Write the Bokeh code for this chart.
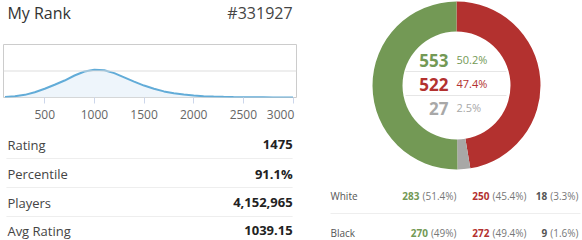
from bokeh.plotting import figure
from bokeh.models import Range1d, ColumnDataSource, Span, FixedTicker
from bokeh.layouts import row, column
from bokeh.embed import file_html
from bokeh.resources import INLINE
from bokeh.core.properties import value
import math

FONT = "Open Sans"

# ---------------- data ----------------
title = "My Rank"
rank_text = "#331927"
ratings = list(range(100, 3001, 100))
density = [0.02, 0.05, 0.10, 0.20, 0.33, 0.48, 0.64, 0.83, 0.98, 1.05,
           1.03, 0.92, 0.76, 0.60, 0.45, 0.33, 0.23, 0.16, 0.11, 0.075,
           0.05, 0.035, 0.025, 0.017, 0.012, 0.008, 0.006, 0.004, 0.003, 0.002]
x_ticks = [500, 1000, 1500, 2000, 2500, 3000]
stat_labels = ["Rating", "Percentile", "Players", "Avg Rating"]
stat_values = ["1475", "91.1%", "4,152,965", "1039.15"]
outcome_names = ["Lost", "Draw", "Won"]          # clockwise from top
outcome_counts = [522, 27, 553]
outcome_colors = ["#b3312f", "#a8a8a6", "#739955"]
center_counts = ["553", "522", "27"]
center_pcts = ["50.2%", "47.4%", "2.5%"]
center_colors = ["#739955", "#b3312f", "#a8a8a8"]
sides = ["White", "Black"]
side_counts = [["283", "250", "18"], ["270", "272", "9"]]
side_pcts = [["(51.4%)", "(45.4%)", "(3.3%)"], ["(49%)", "(49.4%)", "(1.6%)"]]
side_colors = ["#739955", "#b3312f", "#555555"]


def canvas(w, h):
    p = figure(width=w, height=h, x_range=Range1d(0, w), y_range=Range1d(0, h),
               x_axis_type=None, y_axis_type=None, toolbar_location=None,
               output_backend="svg", min_border=0)
    p.outline_line_color = None
    p.grid.visible = False
    return p


def txt(p, x, y, t, size, color, align="left", style="normal"):
    p.text(x=[x], y=[y], text=[t], text_font=value(FONT), text_font_size=size,
           text_color=color, text_align=align, text_baseline="middle",
           text_font_style=style)


# ---------------- header ----------------
H1 = 40
head = canvas(300, H1)
txt(head, 4, H1 - 12, title, "16px", "#333333")
txt(head, 296, H1 - 12, rank_text, "16px", "#444444", align="right")

# ---------------- area chart ----------------
area = figure(width=300, height=85, x_range=Range1d(85, 3035), y_range=Range1d(0, 2.0),
              y_axis_type=None, toolbar_location=None, output_backend="svg",
              min_border_left=3, min_border_right=4, min_border_top=4, min_border_bottom=28)
area.outline_line_color = "#cccccc"
area.grid.visible = False
src = ColumnDataSource(dict(x=ratings, y=density))
area.varea(x="x", y1=0, y2="y", source=src, fill_color="#eef5fb")
area.line(x="x", y="y", source=src, line_color="#62acd8", line_width=2)
area.add_layout(Span(location=1.0, dimension="width", line_color="#dddddd", line_width=1))
ax = area.xaxis[0]
ax.ticker = FixedTicker(ticks=x_ticks)
ax.axis_line_color = None
ax.major_tick_in = 0
ax.major_tick_out = 6
ax.major_tick_line_color = "#ccd6eb"
ax.minor_tick_line_color = None
ax.major_label_standoff = 2
ax.major_label_text_font = FONT
ax.major_label_text_font_size = "12px"
ax.major_label_text_color = "#666666"
ax.major_label_overrides = {3000: "3000" + "\u00a0" * 2}

# ---------------- stats table ----------------
H3 = 115
table = canvas(300, H3)
row_y = [19, 48, 77, 105]
for i, (lab, val) in enumerate(zip(stat_labels, stat_values)):
    txt(table, 4, H3 - row_y[i], lab, "13px", "#444444")
    txt(table, 296, H3 - row_y[i], val, "13px", "#222222", align="right", style="bold")
for sy in [33, 62, 91]:
    table.line(x=[3, 296], y=[H3 - sy, H3 - sy], line_color="#eeeeee", line_width=1)

# ---------------- donut ----------------
H4 = 175
donut = canvas(282, H4)
cx, cy = 156, H4 - 85
total = sum(outcome_counts)
cum = 0
starts, ends = [], []
for c in outcome_counts:
    starts.append(math.pi / 2 - 2 * math.pi * cum / total)
    cum += c
    ends.append(math.pi / 2 - 2 * math.pi * cum / total)
dsrc = ColumnDataSource(dict(x=[cx] * 3, y=[cy] * 3, s=starts, e=ends, c=outcome_colors))
donut.annular_wedge(x="x", y="y", inner_radius=54, outer_radius=84, start_angle="s",
                    end_angle="e", direction="clock", fill_color="c", line_color=None,
                    source=dsrc)
cy_rows = [60, 84, 108]
for i in range(3):
    txt(donut, 148, H4 - cy_rows[i], center_counts[i], "17px", center_colors[i],
        align="right", style="bold")
    txt(donut, 156, H4 - cy_rows[i] + 1, center_pcts[i], "11px", center_colors[i])
for sy in [71, 95]:
    donut.line(x=[105, 206], y=[H4 - sy, H4 - sy], line_color="#e6e6e6", line_width=1)

# ---------------- white / black ----------------
H5 = 65
sidef = canvas(282, H5)
CW = {"(": 0.296, ")": 0.296, "%": 0.823, ".": 0.267}


def width(t, size):
    return sum(CW.get(ch, 0.572) for ch in t) * size


col_right = [156, 226, 278]
srow_y = [20, 57]
for r, side in enumerate(sides):
    y = H5 - srow_y[r]
    txt(sidef, 30, y, side, "10px", "#555555")
    for k in range(3):
        txt(sidef, col_right[k], y, side_pcts[r][k], "10px", "#777777", align="right")
        nx = col_right[k] - width(side_pcts[r][k], 10) - 3
        txt(sidef, nx, y, side_counts[r][k], "10px", side_colors[k], align="right", style="bold")
sidef.line(x=[30, 280], y=[H5 - 38, H5 - 38], line_color="#eeeeee", line_width=1)

layout = row(column(head, area, table, spacing=0), column(donut, sidef, spacing=0), spacing=0)

open("out.html", "w").write(file_html(layout, INLINE))
